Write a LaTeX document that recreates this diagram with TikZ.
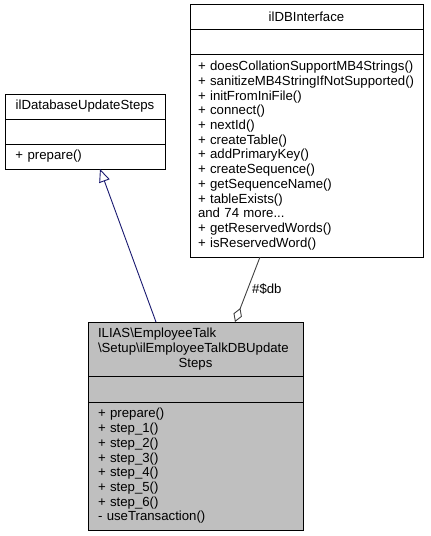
\documentclass[tikz,border=0pt]{standalone}
\usepackage{fontspec}
\setmainfont{Liberation Sans}
\usetikzlibrary{arrows.meta}
\definecolor{inhcol}{HTML}{191970}
\definecolor{aggcol}{HTML}{404040}
\definecolor{mainfill}{HTML}{BFBFBF}
\newcommand{\umlfont}{\fontsize{13.2}{14.7}\selectfont\hyphenpenalty=10000\relax\exhyphenpenalty=10000\relax}
\begin{document}
\begin{tikzpicture}[x=1pt,y=-1pt,
  sec/.style={draw=black, line width=0.9pt, inner xsep=10pt, inner ysep=0pt, outer sep=0pt,
    font=\umlfont, anchor=north west},
  hdr/.style={sec, align=center},
  mth/.style={sec, align=left},
  inh/.style={draw=inhcol, line width=0.9pt, -{Triangle[open, length=13pt, width=11pt, fill=white]}},
  agg/.style={draw=aggcol, line width=0.9pt, -{Diamond[open, length=15pt, width=9pt, fill=white]}},
  lbl/.style={font=\umlfont, inner sep=0pt, anchor=west}]
\useasboundingbox (0,0) rectangle (431,536);

% ilDBInterface
\node[hdr, text width=217pt, inner xsep=8pt, minimum height=25pt] (dbT) at (190,4) {ilDBInterface};
\node[sec, minimum width=233pt, minimum height=25pt, inner xsep=0pt] (dbA) at (dbT.south west) {};
\node[mth, text width=217pt, inner xsep=8pt, minimum height=203pt] (dbM) at (dbA.south west) {%
+~doesCollationSupportMB4Strings()\\
+~sanitizeMB4StringIfNotSupported()\\
+~initFromIniFile()\\
+~connect()\\
+~nextId()\\
+~createTable()\\
+~addPrimaryKey()\\
+~createSequence()\\
+~getSequenceName()\\
+~tableExists()\\
and 74 more...\\
+~getReservedWords()\\
+~isReservedWord()};

% ilDatabaseUpdateSteps
\node[hdr, text width=139pt, inner xsep=10.5pt, minimum height=25pt] (bsT) at (5,94) {ilDatabaseUpdateSteps};
\node[sec, minimum width=160pt, minimum height=25pt, inner xsep=0pt] (bsA) at (bsT.south west) {};
\node[mth, text width=139pt, inner xsep=10.5pt, minimum height=25pt] (bsM) at (bsA.south west) {+ prepare()};

% main class
\node[mth, fill=mainfill, text width=195pt, minimum height=54pt] (mnT) at (88,322) {%
ILIAS\textbackslash EmployeeTalk\\
\textbackslash Setup\textbackslash ilEmployeeTalkDBUpdate\\
\makebox[195pt][c]{Steps}};
\node[sec, fill=mainfill, minimum width=215pt, minimum height=26pt, inner xsep=0pt] (mnA) at (mnT.south west) {};
\node[mth, fill=mainfill, text width=195pt, minimum height=128pt] (mnM) at (mnA.south west) {%
+ prepare()\\
+ step\_1()\\
+ step\_2()\\
+ step\_3()\\
+ step\_4()\\
+ step\_5()\\
+ step\_6()\\
- useTransaction()};

% connectors
\coordinate (inhS) at ([xshift=68pt]mnT.north west);
\coordinate (inhE) at ([xshift=95pt]bsM.south west);
\draw[inh] (inhS) -- (inhE);
\coordinate (aggS) at ([xshift=70pt]dbM.south west);
\coordinate (aggE) at ([xshift=147pt]mnT.north west);
\draw[agg] (aggS) -- (aggE);
\node[lbl] (dbl) at (252,289) {\#\$db};
\end{tikzpicture}
\end{document}
